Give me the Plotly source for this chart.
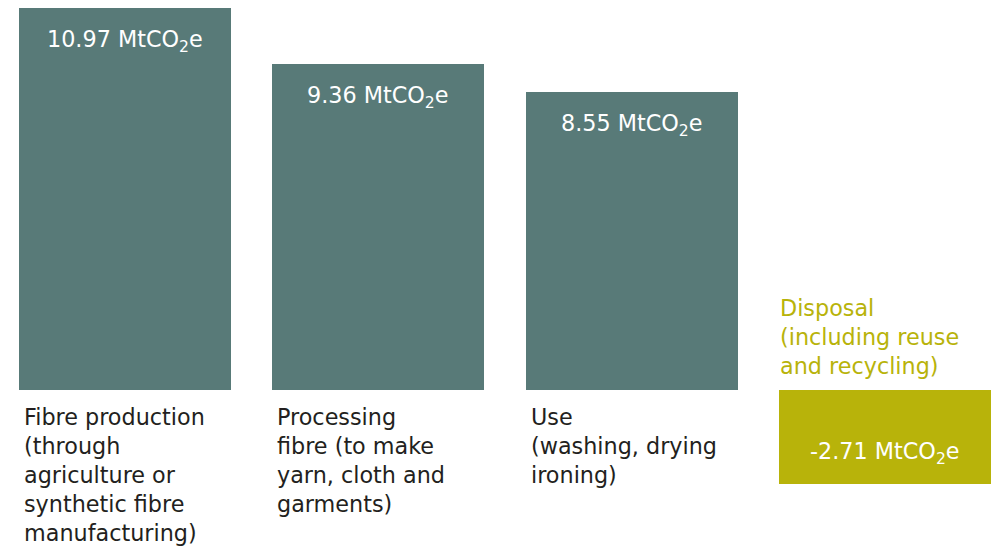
import plotly.graph_objects as go

# Life-cycle stages of clothing and their carbon footprint (MtCO2e)
stages = [
    "Fibre production<br>(through<br>agriculture or<br>synthetic fibre<br>manufacturing)",
    "Processing<br>fibre (to make<br>yarn, cloth and<br>garments)",
    "Use<br>(washing, drying<br>ironing)",
    "Disposal<br>(including reuse<br>and recycling)",
]
emissions = [10.97, 9.36, 8.55, -2.71]

TEAL = "#587a78"
OLIVE = "#b8b30a"
FONT = "DejaVu Sans"
SIZE = 22.3  # 1.3 line height -> ~29 px leading

colors = [TEAL if v >= 0 else OLIVE for v in emissions]
xs = list(range(len(emissions)))
bar_w = 0.837

fig = go.Figure(
    go.Bar(
        x=xs,
        y=emissions,
        width=bar_w,
        marker=dict(color=colors, line=dict(width=0)),
        hoverinfo="skip",
    )
)

annotations = []
for i, (label, v) in enumerate(zip(stages, emissions)):
    value_text = f"{v:.2f} MtCO<sub>2</sub>e"
    if v >= 0:
        # value inside the top of the bar
        annotations.append(dict(
            x=i, y=v, xref="x", yref="y", text=value_text, showarrow=False,
            xanchor="center", yanchor="middle", yshift=-33,
            font=dict(family=FONT, size=SIZE, color="white"),
        ))
        # stage name underneath the bar
        annotations.append(dict(
            x=i - bar_w / 2, y=0, xref="x", yref="y", text=label, showarrow=False,
            xanchor="left", yanchor="top", xshift=3, yshift=-12, align="left",
            font=dict(family=FONT, size=SIZE, color="#231f20"),
        ))
    else:
        # value near the bottom of the negative bar
        annotations.append(dict(
            x=i, y=v, xref="x", yref="y", text=value_text, showarrow=False,
            xanchor="center", yanchor="middle", yshift=31,
            font=dict(family=FONT, size=SIZE, color="white"),
        ))
        # stage name above the bar, in the bar colour
        annotations.append(dict(
            x=i - bar_w / 2, y=0, xref="x", yref="y", text=label, showarrow=False,
            xanchor="left", yanchor="bottom", xshift=-1, yshift=9, align="left",
            font=dict(family=FONT, size=SIZE, color=OLIVE),
        ))

fig.update_layout(
    width=995,
    height=547,
    margin=dict(l=0, r=0, t=0, b=0),
    paper_bgcolor="white",
    plot_bgcolor="white",
    showlegend=False,
    bargap=0,
    xaxis=dict(range=[-0.4935, 3.434], visible=False, fixedrange=True),
    yaxis=dict(range=[-4.509, 11.2], visible=False, fixedrange=True),
    annotations=annotations,
)

fig.write_html("out.html")
